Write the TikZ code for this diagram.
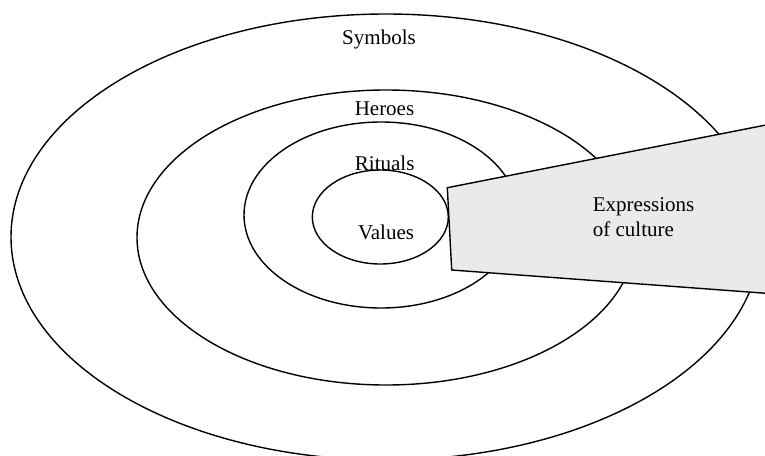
\documentclass[tikz,border=0pt]{standalone}
\usepackage{fontspec}
\setmainfont{Liberation Serif}
\begin{document}
\begin{tikzpicture}[x=1pt,y=-1pt,
  ring/.style={draw=black,line width=1.4pt},
  wedge/.style={draw=black,line width=1.4pt,fill=wedgegray,line join=miter},
  lbl/.style={anchor=base,inner sep=0pt,font=\fontsize{21}{25.7}\selectfont}]
\definecolor{wedgegray}{HTML}{EAEAEA}
\useasboundingbox (0,0) rectangle (765,455);
% concentric layers of culture
\draw[ring] (386,237) ellipse [x radius=375,y radius=223];
\draw[ring] (386,237.5) ellipse [x radius=249,y radius=147.5];
\draw[ring] (381,215) ellipse [x radius=137,y radius=93];
\draw[ring] (380.3,217) ellipse [x radius=68,y radius=47];
% wedge opening out from the core
\coordinate (w1) at (447.3,187.7);
\coordinate (w2) at (766,125);
\coordinate (w3) at (766,293.3);
\coordinate (w4) at (451.7,270);
\draw[wedge] (w1) -- (w2) -- (w3) -- (w4) -- cycle;
% layer names
\node[lbl] (symbols) at (379,44) {Symbols};
\node[lbl] (heroes) at (384.5,115) {Heroes};
\node[lbl] (rituals) at (384.7,170) {Rituals};
\node[lbl] (values) at (386,239) {Values};
% base of a two-line node sits on its last line
\node[lbl,anchor=base west,align=left] (expr) at (592.7,236.7) {Expressions\\of culture};
\end{tikzpicture}
\end{document}
